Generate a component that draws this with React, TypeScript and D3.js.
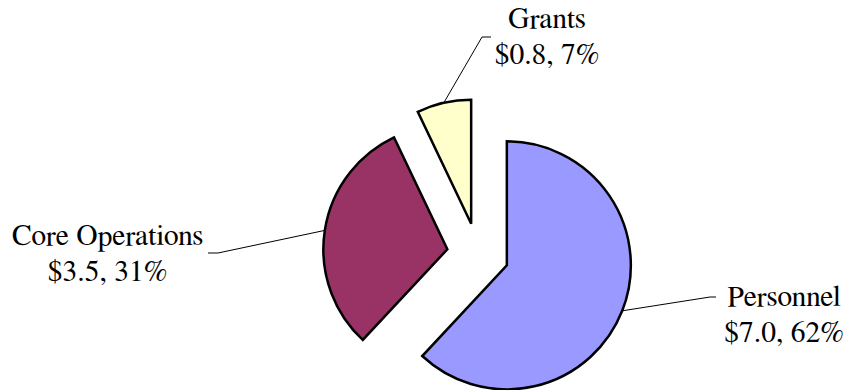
import React from "react";
import * as d3 from "d3";

const categories = ["Personnel", "Core Operations", "Grants"];
const values = [7.0, 3.5, 0.8];
const percents = ["62%", "31%", "7%"];
const colors = ["#9999FF", "#993366", "#FFFFCC"];

// label layout: text center x, first baseline y, leader elbow end x/y
const labelPos = [
  { tx: 784, ty: 306, ex: 716, ey: 297, bx: 710 },
  { tx: 107.5, ty: 245, ex: 208, ey: 253, bx: 218 },
  { tx: 547, ty: 28, ex: 491, ey: 37, bx: 482 },
];

export default function App() {
  const W = 846, H = 390;
  const cx = 478, cy = 254, r = 124, explode = 31;
  const pie = d3.pie<number>().sort(null).value((d) => d).startAngle(0).endAngle(2 * Math.PI);
  const arcs = pie(values);
  const arcGen = d3.arc<d3.PieArcDatum<number>>().innerRadius(0).outerRadius(r);
  const fs = 29.5;
  const lh = 36;
  return (
    <div style={{ position: "absolute", left: 0, top: 0 }}>
      <svg width={W} height={H} style={{ display: "block", background: "#fff" }}>
        {arcs.map((a, i) => {
          const mid = (a.startAngle + a.endAngle) / 2;
          const dx = Math.sin(mid), dy = -Math.cos(mid);
          const ox = cx + explode * dx, oy = cy + explode * dy;
          const px = ox + r * dx, py = oy + r * dy;
          const lp = labelPos[i];
          return (
            <g key={categories[i]}>
              <path
                d={arcGen(a) || ""}
                transform={`translate(${ox},${oy})`}
                fill={colors[i]}
                stroke="#000"
                strokeWidth={2.5}
                strokeLinejoin="miter"
              />
              <polyline
                points={`${px},${py} ${lp.bx},${lp.ey} ${lp.ex},${lp.ey}`}
                fill="none"
                stroke="#000"
                strokeWidth={1}
              />
              <text
                x={lp.tx}
                y={lp.ty}
                textAnchor="middle"
                style={{ fontFamily: "FreeSerif", fontSize: fs }}
                fill="#000"
              >
                <tspan x={lp.tx} y={lp.ty}>{categories[i]}</tspan>
                <tspan x={lp.tx} y={lp.ty + lh}>{`$${values[i].toFixed(1)}, ${percents[i]}`}</tspan>
              </text>
            </g>
          );
        })}
      </svg>
    </div>
  );
}
